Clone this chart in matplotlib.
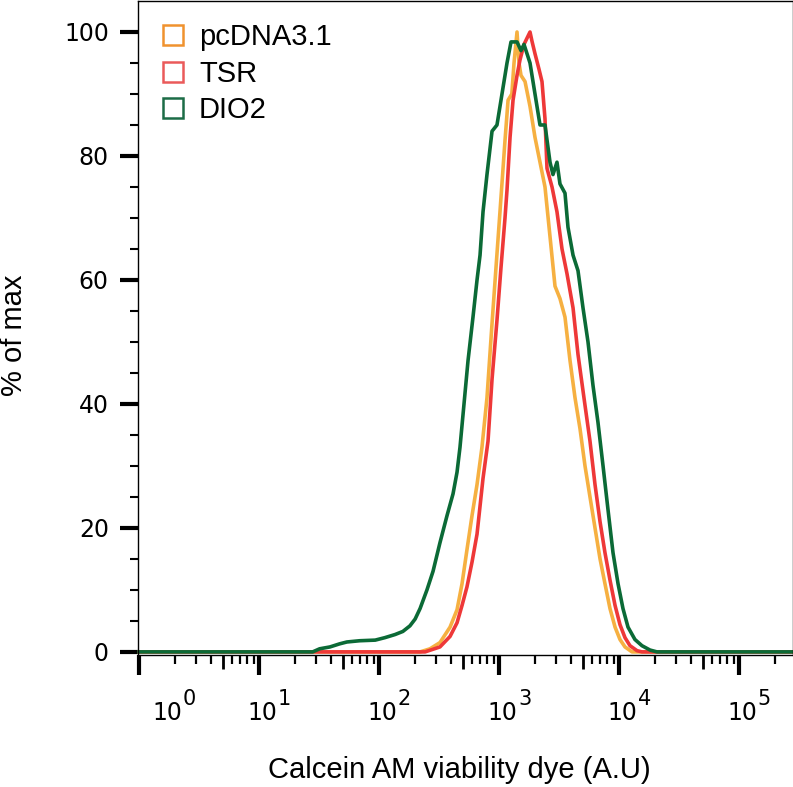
import numpy as np
import matplotlib
matplotlib.use("Agg")
import matplotlib.pyplot as plt
from matplotlib.lines import Line2D
from matplotlib.ticker import LogLocator, NullLocator, NullFormatter

# values (intensity, % of max)
pcdna_x = [1, 220, 266, 322, 391, 447, 492, 541, 596, 656, 721, 794, 875, 944, 1019,
           1122, 1190, 1279, 1334, 1413, 1468, 1525, 1648, 1813, 1995, 2196, 2417,
           2661, 2929, 3222, 3548, 3906, 4299, 4732, 5208, 5731, 6310, 6950, 7640, 8410,
           9270, 10190, 11220, 12830, 282000]
pcdna_y = [0, 0, 0.5, 1.5, 4, 6.8, 11, 16.5, 22, 27, 33, 41, 53, 62, 71,
           82.5, 89, 90, 95, 100, 95, 93, 92, 88, 83, 79, 75,
           67, 59, 57, 54, 47, 41, 36, 30, 25, 20, 15, 11, 7,
           4, 2, 0.8, 0, 0]

tsr_x = [1, 242, 322, 391, 447, 492, 541, 596, 656, 736, 810, 875, 962, 1039, 1122,
         1166, 1236, 1309, 1413, 1496, 1616, 1711, 1813, 1884, 1995, 2154, 2282, 2417,
         2512, 2766, 3042, 3350, 3687, 4140, 4553, 5105, 5731, 6310, 6950, 7640, 8410,
         9270, 10190, 11220, 12350, 14130, 15540, 282000]
tsr_y = [0, 0, 0.8, 2.5, 4.7, 7.5, 10.5, 14.5, 19, 28, 34, 44, 53.5, 62, 70,
         74.5, 83, 89, 93, 95.5, 98, 99, 100, 98.5, 96.5, 94, 92, 86,
         78, 75, 71, 65, 61, 55.5, 48, 41, 34, 27, 21, 16, 11.6,
         7.5, 4.4, 2.3, 1, 0.2, 0, 0]

dio2_x = [1, 28, 32, 39, 47, 54, 69, 93, 112, 136, 158, 181, 200, 220, 251, 282, 322,
          369, 414, 447, 473, 511, 552, 607, 656, 695, 736, 794, 875, 962, 1059, 1166,
          1259, 1413, 1525, 1616, 1813, 1995, 2196, 2417, 2661, 2818, 3042, 3222, 3548,
          3758, 4140, 4553, 5012, 5517, 6070, 6683, 7362, 8091, 8913, 9817, 10790,
          11885, 13580, 15540, 18130, 20730, 282000]
dio2_y = [0, 0, 0.5, 0.8, 1.3, 1.6, 1.8, 1.9, 2.3, 2.8, 3.3, 4.2, 5.3, 7, 10, 13, 17.6,
          22, 25.5, 29, 33, 40, 47, 54, 60, 64, 71, 77, 84, 85, 90, 95,
          98.4, 98.4, 97, 98, 95, 90, 85, 85, 79, 77, 79, 75.5, 74,
          68.5, 64, 61.5, 55.5, 50, 43, 37, 30, 23, 16, 11, 7,
          4, 2, 1, 0.3, 0, 0]

labels = ["pcDNA3.1", "TSR", "DIO2"]
line_colors = ["#F6B041", "#EE3838", "#0B6A36"]
box_colors = ["#F0922E", "#EA5A5A", "#1C6C46"]

major_exp = [0, 1, 2, 3, 4, 5]

W, H = 793, 787
fig = plt.figure(figsize=(W / 100, H / 100), dpi=100)
ax = fig.add_axes([138 / W, (H - 655) / H, (W - 138) / W, 654 / H])

for xs, ys, c in zip([pcdna_x, tsr_x, dio2_x], [pcdna_y, tsr_y, dio2_y], line_colors):
    ax.plot(xs, ys, color=c, lw=2.6, solid_joinstyle="round", clip_on=False)

ax.set_xscale("log")
ax.set_xlim(10 ** (-1 / 120), 10 ** (654 / 120))
ax.set_ylim(-0.5, 105)

for s in ax.spines.values():
    s.set_linewidth(1.0)

# y axis
ax.set_yticks([0, 20, 40, 60, 80, 100])
ax.set_yticks(np.arange(5, 100, 5), minor=True)
ax.tick_params(axis="y", which="major", length=13, width=3, pad=8, labelsize=17)
ax.tick_params(axis="y", which="minor", length=6, width=1.5)
for t in ax.get_yticklabels():
    t.set_family("DejaVu Sans")

# x axis
ax.set_xticks([10.0 ** e for e in major_exp])
ax.set_xticklabels([])
ax.xaxis.set_minor_locator(LogLocator(base=10, subs=[2, 3, 4, 6, 7, 8, 9], numticks=20))
ax.xaxis.set_minor_formatter(NullFormatter())
ax.tick_params(axis="x", which="major", length=14.5, width=3)
ax.tick_params(axis="x", which="minor", length=6.5, width=1.6)

sec = ax.secondary_xaxis("bottom")
sec.set_xticks([5 * 10.0 ** e for e in major_exp])
sec.set_xticklabels([])
sec.xaxis.set_minor_locator(NullLocator())
sec.tick_params(axis="x", which="major", length=10, width=2)
sec.spines["bottom"].set_visible(False)

for e in major_exp:
    shift = 25 if e == 0 else 0
    ax.annotate("10", xy=(10.0 ** e, 0), xycoords=("data", "axes fraction"),
                xytext=(3 + shift, -58.5), textcoords="offset pixels",
                ha="center", va="center", fontsize=17, family="DejaVu Sans")
    ax.annotate(str(e), xy=(10.0 ** e, 0), xycoords=("data", "axes fraction"),
                xytext=(25.5 + shift, -44), textcoords="offset pixels",
                ha="center", va="center", fontsize=15, family="DejaVu Sans")

fig.text(22 / W, 1 - 335 / H, "% of max", rotation=90, rotation_mode="anchor",
         ha="center", va="baseline", fontsize=21, family="Liberation Sans")
fig.text(459 / W, 1 - 778 / H, "Calcein AM viability dye (A.U)", ha="center",
         va="baseline", fontsize=21, family="Liberation Sans")

handles = [Line2D([], [], ls="none", marker="s", ms=14, mfc="none", mec=c, mew=1.8)
           for c in box_colors]
ax.legend(handles, labels, loc="upper left",
          bbox_to_anchor=((158.5 - 138) / 655, 1 - 22 / 654),
          frameon=False, borderpad=0, borderaxespad=0, handlelength=1.0,
          handletextpad=0.39, labelspacing=0.3, prop={"family": "Liberation Sans", "size": 21})

fig.savefig("out.png", dpi=100)
